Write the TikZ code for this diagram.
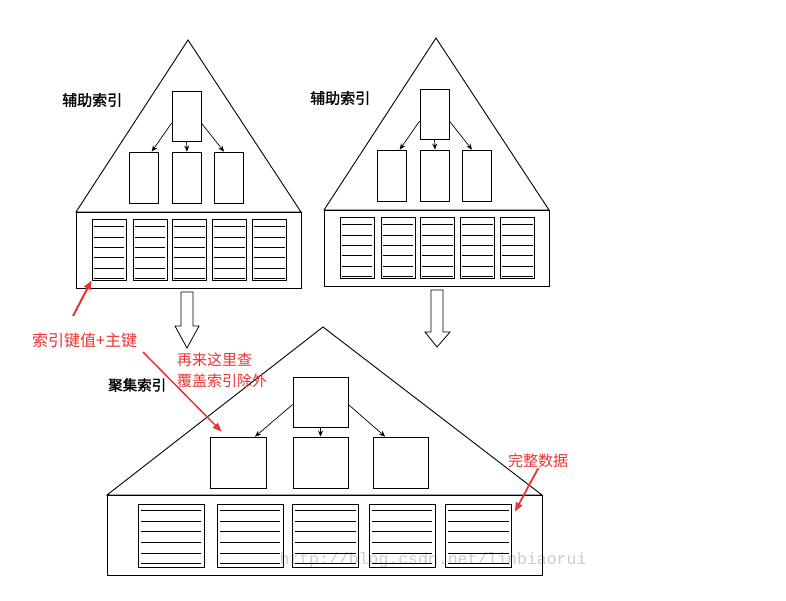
\documentclass[tikz,border=0pt]{standalone}
\usepackage{fontspec}
\newfontfamily\cjk{Noto Sans CJK SC}
\newfontfamily\cjkbold[FakeBold=1.2]{Noto Sans CJK SC}
\newfontfamily\markfont{Liberation Mono}
\usetikzlibrary{calc,arrows.meta}
\definecolor{annored}{RGB}{232,52,52}
\begin{document}
\begin{tikzpicture}[x=1pt,y=-1pt,
    treeline/.style={line width=0.9pt},
    idxbox/.style 2 args={draw, line width=0.8pt, inner sep=0pt, minimum width=#1pt, minimum height=#2pt},
    ptr/.style={-{Stealth[length=6pt,width=5pt]}, line width=0.7pt},
    title/.style={font=\cjkbold\fontsize{15}{18}\selectfont, inner sep=0pt, anchor=west},
    annotext/.style={font=\cjk\fontsize{15}{21}\selectfont, text=annored, inner sep=0pt, anchor=west, align=left},
    annoarrow/.style={annored, -{Triangle[length=9pt,width=7pt]}}]
  \useasboundingbox (0,0) rectangle (786,600);

  % the faint watermark
  \node[text=black!20, font=\markfont\fontsize{16.5}{20}\selectfont] (mark) at (433,560) {http://blog.csdn.net/linbiaorui};

  % the two secondary index trees (the second one sits to the right)
  \foreach \t/\dx/\dy in {a/0/0, b/248/-2} {
    \begin{scope}[shift={(\dx,\dy)}]
      \draw[treeline] (188,40) -- (76,212) -- (301,212) -- cycle;
      \draw[treeline] (76,212) rectangle (301,288);
      \node[title] (\t-title) at (62,100) {辅助索引};
      % root and children
      \node[idxbox={29}{50}] (\t-root) at (186.5,116) {};
      \node[idxbox={29}{51}] (\t-c1) at (143.5,177.5) {};
      \node[idxbox={29}{51}] (\t-c2) at (187,177.5) {};
      \node[idxbox={29}{51}] (\t-c3) at (228.5,177.5) {};
      \draw[ptr] ($(\t-root.west)!0.28!(\t-root.south west)$) -- ($(\t-c1.north)!0.55!(\t-c1.north east)$);
      \draw[ptr] (\t-root.south) -- (\t-c2.north);
      \draw[ptr] ($(\t-root.east)!0.28!(\t-root.south east)$) -- ($(\t-c3.north)!0.3!(\t-c3.north west)$);
      % the leaf pages
      \foreach \i/\px in {1/109, 2/150, 3/189.5, 4/229.5, 5/269.5} {
        \node[idxbox={34}{61}] (\t-p\i) at (\px,249.5) {};
        \foreach \k in {1,...,6} {
          \pgfmathsetmacro\f{(\k-0.2)/6}
          \draw[line width=0.7pt] ([xshift=2pt]$(\t-p\i.north west)!\f!(\t-p\i.south west)$) -- ([xshift=-2pt]$(\t-p\i.north east)!\f!(\t-p\i.south east)$);
        }
      }
    \end{scope}
  }

  % the hollow arrows down to the clustered index
  \draw[line width=0.8pt] (181,292) -- (193,292) -- (193,326) -- (199,326) -- (187,348) -- (175,326) -- (181,326) -- cycle;
  \draw[line width=0.8pt] (431,290) -- (443,290) -- (443,332) -- (450,332) -- (437,347) -- (425,332) -- (431,332) -- cycle;

  % the clustered index tree
  \draw[treeline] (323,327) -- (107,495) -- (542,495) -- cycle;
  \draw[treeline] (107,495) rectangle (542,575);
  \node[title, font=\cjkbold\fontsize{14.5}{18}\selectfont] (c-title) at (108,385) {聚集索引};
  \node[idxbox={55}{50}] (c-root) at (320.5,402) {};
  \node[idxbox={56}{51}] (c-c1) at (238,462.5) {};
  \node[idxbox={55}{51}] (c-c2) at (320.5,462.5) {};
  \node[idxbox={55}{51}] (c-c3) at (400.5,462.5) {};
  \draw[ptr] ($(c-root.west)!0.1!(c-root.south west)$) -- ($(c-c1.north)!0.6!(c-c1.north east)$);
  \draw[ptr] (c-root.south) -- (c-c2.north);
  \draw[ptr] ($(c-root.east)!0.1!(c-root.south east)$) -- ($(c-c3.north)!0.55!(c-c3.north west)$);
  \foreach \i/\px in {1/171, 2/250, 3/325.5, 4/402, 5/478.5} {
    \node[idxbox={66}{63}] (c-p\i) at (\px,535.5) {};
    \foreach \k in {1,...,6} {
      \pgfmathsetmacro\f{(\k-0.35)/6}
      \draw[line width=0.7pt] ([xshift=3pt]$(c-p\i.north west)!\f!(c-p\i.south west)$) -- ([xshift=-3pt]$(c-p\i.north east)!\f!(c-p\i.south east)$);
    }
  }

  % the red notes
  \node[annotext, font=\cjk\fontsize{16}{20}\selectfont] (keytext) at (32,340) {索引键值+主键};
  \coordinate (key-up) at (73,316);
  \draw[annoarrow, line width=2pt] (key-up) -- (a-p1.south west);
  \node[annotext] (lookup) at (177,370.5) {再来这里查\\覆盖索引除外};
  \coordinate (key-down) at (143,352);
  \draw[annoarrow, line width=1.5pt] (key-down) -- ($(c-c1.north west)+(12,-5)$);
  \node[annotext] (fulltext) at (508,461) {完整数据};
  \draw[annoarrow, line width=1.8pt] (fulltext.south) -- ($(c-p5.north east)+(3,8)$);
\end{tikzpicture}
\end{document}
